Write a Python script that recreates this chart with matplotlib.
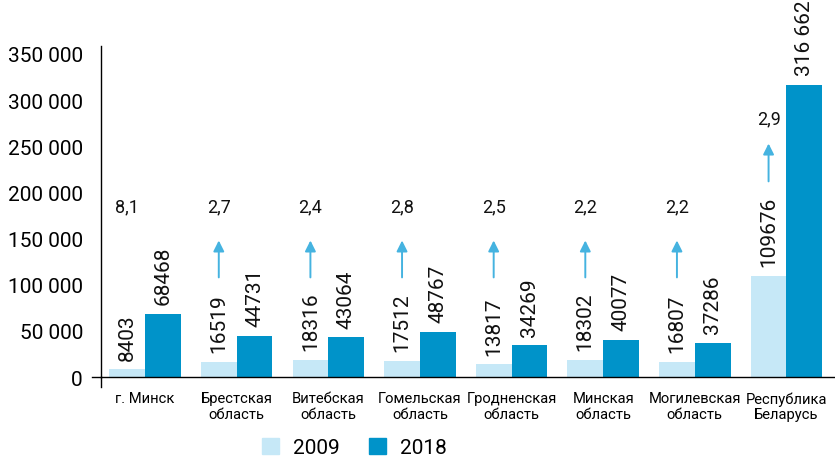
import matplotlib
matplotlib.use("Agg")
import matplotlib.pyplot as plt
from matplotlib.patches import Patch
from matplotlib.lines import Line2D
import numpy as np

plt.rcParams['font.family'] = ['Roboto', 'DejaVu Sans']

categories = ["г. Минск", "Брестская\nобласть", "Витебская\nобласть", "Гомельская\nобласть",
              "Гродненская\nобласть", "Минская\nобласть", "Могилевская\nобласть", "Республика\nБеларусь"]
values_2009 = [8403, 16519, 18316, 17512, 13817, 18302, 16807, 109676]
values_2018 = [68468, 44731, 43064, 48767, 34269, 40077, 37286, 316662]
labels_2009 = ["8403", "16519", "18316", "17512", "13817", "18302", "16807", "109676"]
labels_2018 = ["68468", "44731", "43064", "48767", "34269", "40077", "37286", "316 662"]
ratios = [8.1, 2.7, 2.4, 2.8, 2.5, 2.2, 2.2, 2.9]
series_names = ["2009", "2018"]
yticks = [0, 50000, 100000, 150000, 200000, 250000, 300000, 350000]
ytick_labels = ["0", "50 000", "100 000", "150 000", "200 000", "250 000", "300 000", "350 000"]

c_light = "#C6E8F7"
c_dark = "#0093C9"
c_arrow = "#45B3E0"

fig = plt.figure(figsize=(8.35, 4.6), dpi=100)
ax = fig.add_axes([0.121, 0.178, 0.879, 0.72])

x = np.arange(len(categories))
w = 0.39
ax.bar(x - w / 2, values_2009, width=w, color=c_light, align='center')
ax.bar(x + w / 2, values_2018, width=w, color=c_dark, align='center')

ax.set_xlim(-0.48, 7.53)
ax.set_ylim(0, 358700)

for i in range(len(categories)):
    ax.annotate(labels_2009[i], (x[i] - w / 2, values_2009[i]), xytext=(0, 7),
                textcoords='offset points', rotation=90, ha='center', va='bottom',
                fontsize=15, color='#111111')
    ax.annotate(labels_2018[i], (x[i] + w / 2, values_2018[i]), xytext=(0, 7),
                textcoords='offset points', rotation=90, ha='center', va='bottom',
                fontsize=15, color='#111111')
    rtxt = f"{ratios[i]:.1f}".replace('.', ',')
    if i < len(categories) - 1:
        ty, a0, a1 = 185000, 108000, 148000
    else:
        ty, a0, a1 = 280000, 212000, 253000
    ax.text(x[i] - w / 2, ty, rtxt, ha='center', va='center', fontsize=13, color='#111111')
    if i > 0:
        ax.annotate("", xy=(x[i] - w / 2, a1), xytext=(x[i] - w / 2, a0),
                    arrowprops=dict(arrowstyle='-|>', color=c_arrow, lw=1.4,
                                    mutation_scale=16, shrinkA=0, shrinkB=0))

ax.set_yticks(yticks)
ax.set_yticklabels(ytick_labels, fontsize=15)
ax.tick_params(axis='y', length=0, pad=13)
ax.set_xticks(x)
ax.set_xticklabels(categories, fontsize=10.6)
ax.tick_params(axis='x', length=0, pad=10)
for lbl in ax.get_xticklabels():
    lbl.set_linespacing(1.15)

for s in ['top', 'right']:
    ax.spines[s].set_visible(False)
ax.spines['left'].set_linewidth(1.0)
ax.spines['bottom'].set_linewidth(1.0)
ax.add_line(Line2D([0, 0], [-0.03, 0], transform=ax.transAxes, color='black', lw=1.0, clip_on=False))
ax.add_line(Line2D([-0.012, 0], [0, 0], transform=ax.transAxes, color='black', lw=1.0, clip_on=False))

handles = [Patch(color=c_light), Patch(color=c_dark)]
fig.legend(handles, series_names, loc='center left', bbox_to_anchor=(262 / 835, 0.025), ncol=2,
           frameon=False, prop={'size': 15},
           handlelength=0.8, handleheight=0.85, borderpad=0, borderaxespad=0,
           columnspacing=1.4, handletextpad=0.7)

fig.savefig("out.png", dpi=100)
